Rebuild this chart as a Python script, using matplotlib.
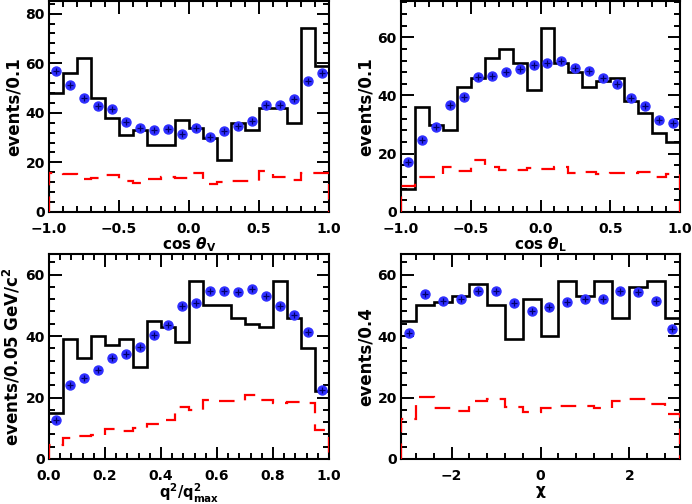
import matplotlib
matplotlib.use('Agg')
import matplotlib.pyplot as plt
import numpy as np
from matplotlib.ticker import AutoMinorLocator, MultipleLocator

plt.rcParams['font.family'] = ['DejaVu Sans']
plt.rcParams['font.weight'] = 'bold'
plt.rcParams['font.size'] = 10
plt.rcParams['mathtext.fontset'] = 'custom'
plt.rcParams['mathtext.rm'] = 'DejaVu Sans:bold'
plt.rcParams['mathtext.it'] = 'DejaVu Sans:italic:bold'
plt.rcParams['mathtext.bf'] = 'DejaVu Sans:bold'

# bin edges
cos_edges = np.linspace(-1.0, 1.0, 21)
q2_edges = np.linspace(0.0, 1.0, 21)
chi_edges = np.array([-np.pi, -2.8, -2.4, -2.0, -1.6, -1.2, -0.8, -0.4, 0.0,
                      0.4, 0.8, 1.2, 1.6, 2.0, 2.4, 2.8, np.pi])

# cos theta_V
cosv_data = [48, 56, 62, 46, 38, 31, 33, 27, 27, 37,
             34, 30, 21, 36, 33, 42, 42, 36, 74, 59]
cosv_fit = [57, 51.4, 46, 42.9, 41.4, 36.2, 33.9, 33.1, 33.3, 31.5,
            34, 30.4, 32.7, 34.7, 36.7, 43, 43.3, 45.4, 53, 56]
cosv_bkg = [15.8, 15.5, 13.3, 13.6, 14.8, 12.4, 11.8, 13.2, 14.0, 13.8,
            15.6, 11.2, 12.2, 12.4, 12.6, 16.7, 14.3, 13.0, 15.6, 15.8]

# cos theta_L
cosl_data = [8, 36, 30, 28, 43, 46, 53, 56, 51, 42,
             63, 51, 48, 43, 45, 46, 38, 34, 27, 24]
cosl_fit = [17.2, 24.8, 29.1, 36.8, 39.6, 46.5, 46.8, 48, 49.1, 50.4,
            51.3, 51.7, 49.3, 48.3, 46, 43.8, 39.3, 36.3, 31.7, 30.7]
cosl_bkg = [9, 12, 12, 15.4, 14, 17.7, 15.5, 14.5, 14.3, 15,
            14.8, 15.6, 13.3, 13.8, 13.1, 13.4, 13.5, 13.6, 11.9, 13.2]

# q^2 / q^2_max
q2_data = [15, 39, 33, 40, 37, 39, 30, 45, 43, 38,
           58, 50, 50, 46, 44, 43, 58, 46, 36, 22]
q2_fit = [12.6, 24.2, 26.4, 28.9, 32.8, 34.2, 36.6, 40.4, 43.6, 49.8,
          50.8, 54.6, 54.6, 54.2, 55.4, 52.9, 49.9, 46.7, 41.2, 22.6]
q2_bkg = [4.5, 6.7, 7.6, 7.8, 9.7, 9.2, 10.0, 11.5, 12.7, 16.9,
          16.1, 19.2, 19.0, 19.0, 20.7, 19.1, 18.3, 18.5, 18.1, 9.4]

# chi
chi_data = [45, 50, 51, 53, 57, 50, 39, 52, 40, 58, 53, 58, 46, 56, 58, 46]
chi_fit = [40.9, 53.6, 51.4, 51.9, 54.6, 54.6, 50.6, 48, 49.3, 51,
           52, 52.1, 54.7, 54.3, 51.4, 42.2]
chi_bkg = [13.0, 20.3, 16.7, 15.6, 18.8, 19.4, 17.0, 15.3, 16.5, 17.4,
           17.1, 16.5, 18.8, 19.4, 17.8, 14.8]


def panel(ax, edges, data, fit, bkg, xlabel, ylabel, xstep, xfs=11, xpad=0):
    centers = 0.5 * (edges[1:] + edges[:-1])
    ax.stairs(data, edges, baseline=None, color='black', lw=1.9)
    ax.stairs(bkg, edges, baseline=0, color='red', lw=1.6,
              linestyle=(0, (7, 5)), zorder=3)
    ax.plot(centers, fit, 'o', color='#2f2fff', ms=7.5, mec='none', zorder=4)
    ax.plot(centers, fit, '+', color='#00006a', ms=5, mew=0.9, zorder=5)
    ax.set_xlim(edges[0], edges[-1])
    ax.set_ylim(0, 1.15 * max(data))
    ax.xaxis.set_major_locator(MultipleLocator(xstep))
    ax.xaxis.set_minor_locator(AutoMinorLocator(5))
    ax.yaxis.set_major_locator(MultipleLocator(20))
    ax.yaxis.set_minor_locator(AutoMinorLocator(5))
    ax.tick_params(which='both', direction='in', top=True, right=True,
                   width=1.4, labelsize=10)
    ax.tick_params(which='major', length=9)
    ax.tick_params(which='minor', length=4.5)
    ax.tick_params(axis='x', which='major', pad=7)
    ax.tick_params(axis='y', which='major', pad=3)
    for s in ax.spines.values():
        s.set_linewidth(1.5)
    ax.set_xlabel(xlabel, fontsize=xfs, fontweight='bold', labelpad=xpad)
    ax.set_ylabel(ylabel, fontsize=12, fontweight='bold', labelpad=2)


fig = plt.figure(figsize=(6.92, 5.04), dpi=100)
ax1 = fig.add_axes([0.0708, 0.5794, 0.4046, 0.4187])
ax2 = fig.add_axes([0.5795, 0.5794, 0.4032, 0.4187])
ax3 = fig.add_axes([0.0708, 0.0893, 0.4046, 0.4067])
ax4 = fig.add_axes([0.5795, 0.0893, 0.4032, 0.4067])

panel(ax1, cos_edges, cosv_data, cosv_fit, cosv_bkg,
      r'cos $\theta_{\rm V}$', 'events/0.1', 0.5)
panel(ax2, cos_edges, cosl_data, cosl_fit, cosl_bkg,
      r'cos $\theta_{\rm L}$', 'events/0.1', 0.5)
panel(ax3, q2_edges, q2_data, q2_fit, q2_bkg,
      r'q$^{\rm 2}$/q$^{\rm 2}_{\rm max}$', r'events/0.05 GeV/c$^{\rm 2}$', 0.2,
      xfs=10.5, xpad=-1)
panel(ax4, chi_edges, chi_data, chi_fit, chi_bkg,
      'χ', 'events/0.4', 2)

fig.savefig('out.png', dpi=100)
